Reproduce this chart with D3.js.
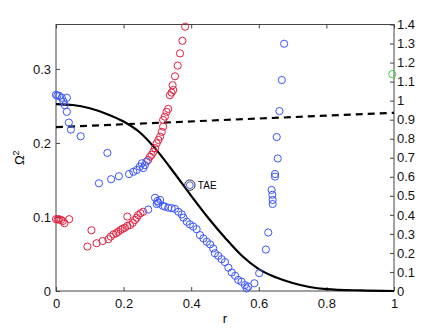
<!DOCTYPE html>
<html>
<head>
<meta charset="utf-8">
<script src="https://cdn.jsdelivr.net/npm/d3@7"></script>
<style>
  body { margin: 0; background: #fff; }
  text { font-family: "Liberation Sans", Arial, sans-serif; }
</style>
</head>
<body>
<div id="chart"></div>
<script>
// blue continuum / eigenvalue points (r, Omega^2)
const blueR = [0.0, 0.004, 0.01, 0.017, 0.032, 0.022, 0.026, 0.032, 0.038, 0.044, 0.073, 0.152,
  0.127, 0.163, 0.186, 0.216, 0.229, 0.239, 0.248, 0.254, 0.263, 0.268, 0.258, 0.273,
  0.293, 0.3, 0.308, 0.303, 0.298, 0.316, 0.322, 0.332, 0.342, 0.352, 0.362, 0.372, 0.377, 0.387,
  0.396, 0.406, 0.416, 0.426, 0.436, 0.446, 0.456, 0.465, 0.47, 0.48, 0.49, 0.5, 0.51, 0.52,
  0.53, 0.539, 0.549, 0.559, 0.569, 0.564,
  0.675, 0.668, 0.661, 0.653, 0.656, 0.648, 0.648, 0.638, 0.64, 0.641, 0.641, 0.628, 0.621, 0.601, 0.587];
const blueW = [0.265, 0.264, 0.2635, 0.261, 0.261, 0.256, 0.251, 0.242, 0.2275, 0.218, 0.209, 0.1865,
  0.1455, 0.151, 0.155, 0.158, 0.161, 0.1635, 0.168, 0.1725, 0.17, 0.175, 0.166, 0.11,
  0.126, 0.1215, 0.123, 0.119, 0.1175, 0.115, 0.114, 0.1125, 0.112, 0.111, 0.107, 0.1035, 0.099, 0.0935,
  0.09, 0.087, 0.0835, 0.0755, 0.071, 0.0665, 0.063, 0.0575, 0.051, 0.0475, 0.043, 0.039, 0.0315, 0.025,
  0.0205, 0.015, 0.0125, 0.008, 0.006, 0.0035,
  0.334, 0.285, 0.243, 0.208, 0.179, 0.158, 0.1545, 0.1365, 0.13, 0.123, 0.1175, 0.079, 0.056, 0.024, 0.0104];

// red points (r, Omega^2)
const redR = [0.0, 0.009, 0.015, 0.02, 0.025, 0.039, 0.005,
  0.093, 0.105, 0.12, 0.138, 0.155, 0.162, 0.17, 0.178, 0.184, 0.191, 0.197, 0.204, 0.211,
  0.211, 0.219, 0.227, 0.234, 0.239, 0.243, 0.25, 0.258,
  0.273, 0.278, 0.283, 0.288, 0.293, 0.298, 0.303, 0.308, 0.313, 0.317, 0.317, 0.322, 0.327,
  0.332, 0.337, 0.342, 0.347, 0.345, 0.352, 0.36, 0.367, 0.374, 0.382];
const redW = [0.097, 0.097, 0.096, 0.0945, 0.0915, 0.097, 0.0965,
  0.06, 0.082, 0.0645, 0.0675, 0.07, 0.0735, 0.0765, 0.078, 0.08, 0.0825, 0.084, 0.0855, 0.088,
  0.1005, 0.089, 0.092, 0.096, 0.099, 0.1025, 0.105, 0.107,
  0.177, 0.1815, 0.184, 0.188, 0.193, 0.1995, 0.204, 0.2085, 0.215, 0.222, 0.231, 0.2355, 0.242,
  0.246, 0.2645, 0.268, 0.2715, 0.278, 0.29, 0.3045, 0.321, 0.338, 0.357];

// single green point
const greenR = [0.995];
const greenW = [0.293];

// TAE mode
const taeR = 0.396, taeW = 0.143;

// solid profile (right axis)
const profR = [0, 0.05, 0.1, 0.15, 0.2, 0.25, 0.3, 0.35, 0.4, 0.45, 0.5, 0.55, 0.6, 0.65, 0.7, 0.75, 0.8, 0.9, 1.0];
const profV = [0.982, 0.977, 0.96, 0.93, 0.89, 0.83, 0.735, 0.62, 0.5, 0.385, 0.28, 0.185, 0.115, 0.072, 0.042, 0.021, 0.01, 0.003, 0.0];

// dashed line (right axis)
const dashR = [0, 1];
const dashV = [0.861, 0.936];

const xTicks = [0, 0.2, 0.4, 0.6, 0.8, 1];
const yTicks = [0, 0.1, 0.2, 0.3];
const y2Ticks = [0, 0.1, 0.2, 0.3, 0.4, 0.5, 0.6, 0.7, 0.8, 0.9, 1, 1.1, 1.2, 1.3, 1.4];

const W = 436, H = 328;
const m = {left: 56, right: 42, top: 24.5, bottom: 37};

const svg = d3.select("#chart").append("svg")
    .attr("width", W).attr("height", H);

const x = d3.scaleLinear().domain([0, 1]).range([m.left, W - m.right]);
const y = d3.scaleLinear().domain([0, 0.36]).range([H - m.bottom, m.top]);
const y2 = d3.scaleLinear().domain([0, 1.4]).range([H - m.bottom, m.top]);

const axisColor = "#444";
const tk = 4;

// box
svg.append("rect")
    .attr("x", x(0)).attr("y", y(0.36))
    .attr("width", x(1) - x(0)).attr("height", y(0) - y(0.36))
    .attr("fill", "none").attr("stroke", axisColor).attr("stroke-width", 1);

function styleAxis(g) {
  g.select(".domain").remove();
  g.selectAll(".tick line").attr("stroke", axisColor);
  g.selectAll(".tick text").attr("fill", "#111").style("font-size", "13px")
    .style("font-family", "'Liberation Sans', Arial, sans-serif");
}

svg.append("g").attr("transform", `translate(0,${y(0)})`)
  .call(d3.axisBottom(x).tickValues(xTicks).tickFormat(d3.format("")).tickSizeInner(-tk).tickPadding(8))
  .call(styleAxis);
svg.append("g").attr("transform", `translate(0,${y(0.36)})`)
  .call(d3.axisTop(x).tickValues(xTicks).tickFormat("").tickSizeInner(-tk))
  .call(styleAxis);
svg.append("g").attr("transform", `translate(${x(0)},0)`)
  .call(d3.axisLeft(y).tickValues(yTicks).tickFormat(d3.format("")).tickSizeInner(-tk).tickPadding(5))
  .call(styleAxis);
svg.append("g").attr("transform", `translate(${x(1)},0)`)
  .call(d3.axisRight(y2).tickValues(y2Ticks).tickFormat(d3.format("")).tickSizeInner(-tk).tickPadding(3))
  .call(styleAxis);

// labels
svg.append("text").attr("x", x(0.5)).attr("y", H - 5)
  .attr("text-anchor", "middle").style("font-size", "13px").text("r");
svg.append("text")
  .attr("transform", `translate(24,${(y(0) + y(0.36)) / 2}) rotate(-90)`)
  .attr("text-anchor", "middle").style("font-size", "13px")
  .html("Ω<tspan dy='-5' font-size='9px'>2</tspan>");

// lines
const profLine = d3.line().x((d, i) => x(profR[i])).y(d => y2(d)).curve(d3.curveMonotoneX);
svg.append("path").datum(profV).attr("d", profLine)
  .attr("fill", "none").attr("stroke", "#000").attr("stroke-width", 2.2);

const dashLine = d3.line().x((d, i) => x(dashR[i])).y(d => y2(d));
svg.append("path").datum(dashV).attr("d", dashLine)
  .attr("fill", "none").attr("stroke", "#000").attr("stroke-width", 2.2)
  .attr("stroke-dasharray", "7,5");

// points
function drawPts(rs, ws, color) {
  svg.append("g").selectAll("circle").data(rs).enter().append("circle")
    .attr("cx", (d) => x(d)).attr("cy", (d, i) => y(ws[i]))
    .attr("r", 3.6).attr("fill", "none").attr("stroke", color).attr("stroke-width", 1);
}
drawPts(redR, redW, "#e3203f");
drawPts(blueR, blueW, "#3a55ff");
drawPts(greenR, greenW, "#44cc44");

// TAE marker
svg.append("circle").attr("cx", x(taeR)).attr("cy", y(taeW)).attr("r", 5.2)
  .attr("fill", "none").attr("stroke", "#333").attr("stroke-width", 1);
svg.append("circle").attr("cx", x(taeR)).attr("cy", y(taeW)).attr("r", 3.4)
  .attr("fill", "none").attr("stroke", "#3a55ff").attr("stroke-width", 1);
svg.append("text").attr("x", x(taeR) + 8).attr("y", y(taeW) + 4)
  .style("font-size", "10px").text("TAE");
</script>
</body>
</html>
